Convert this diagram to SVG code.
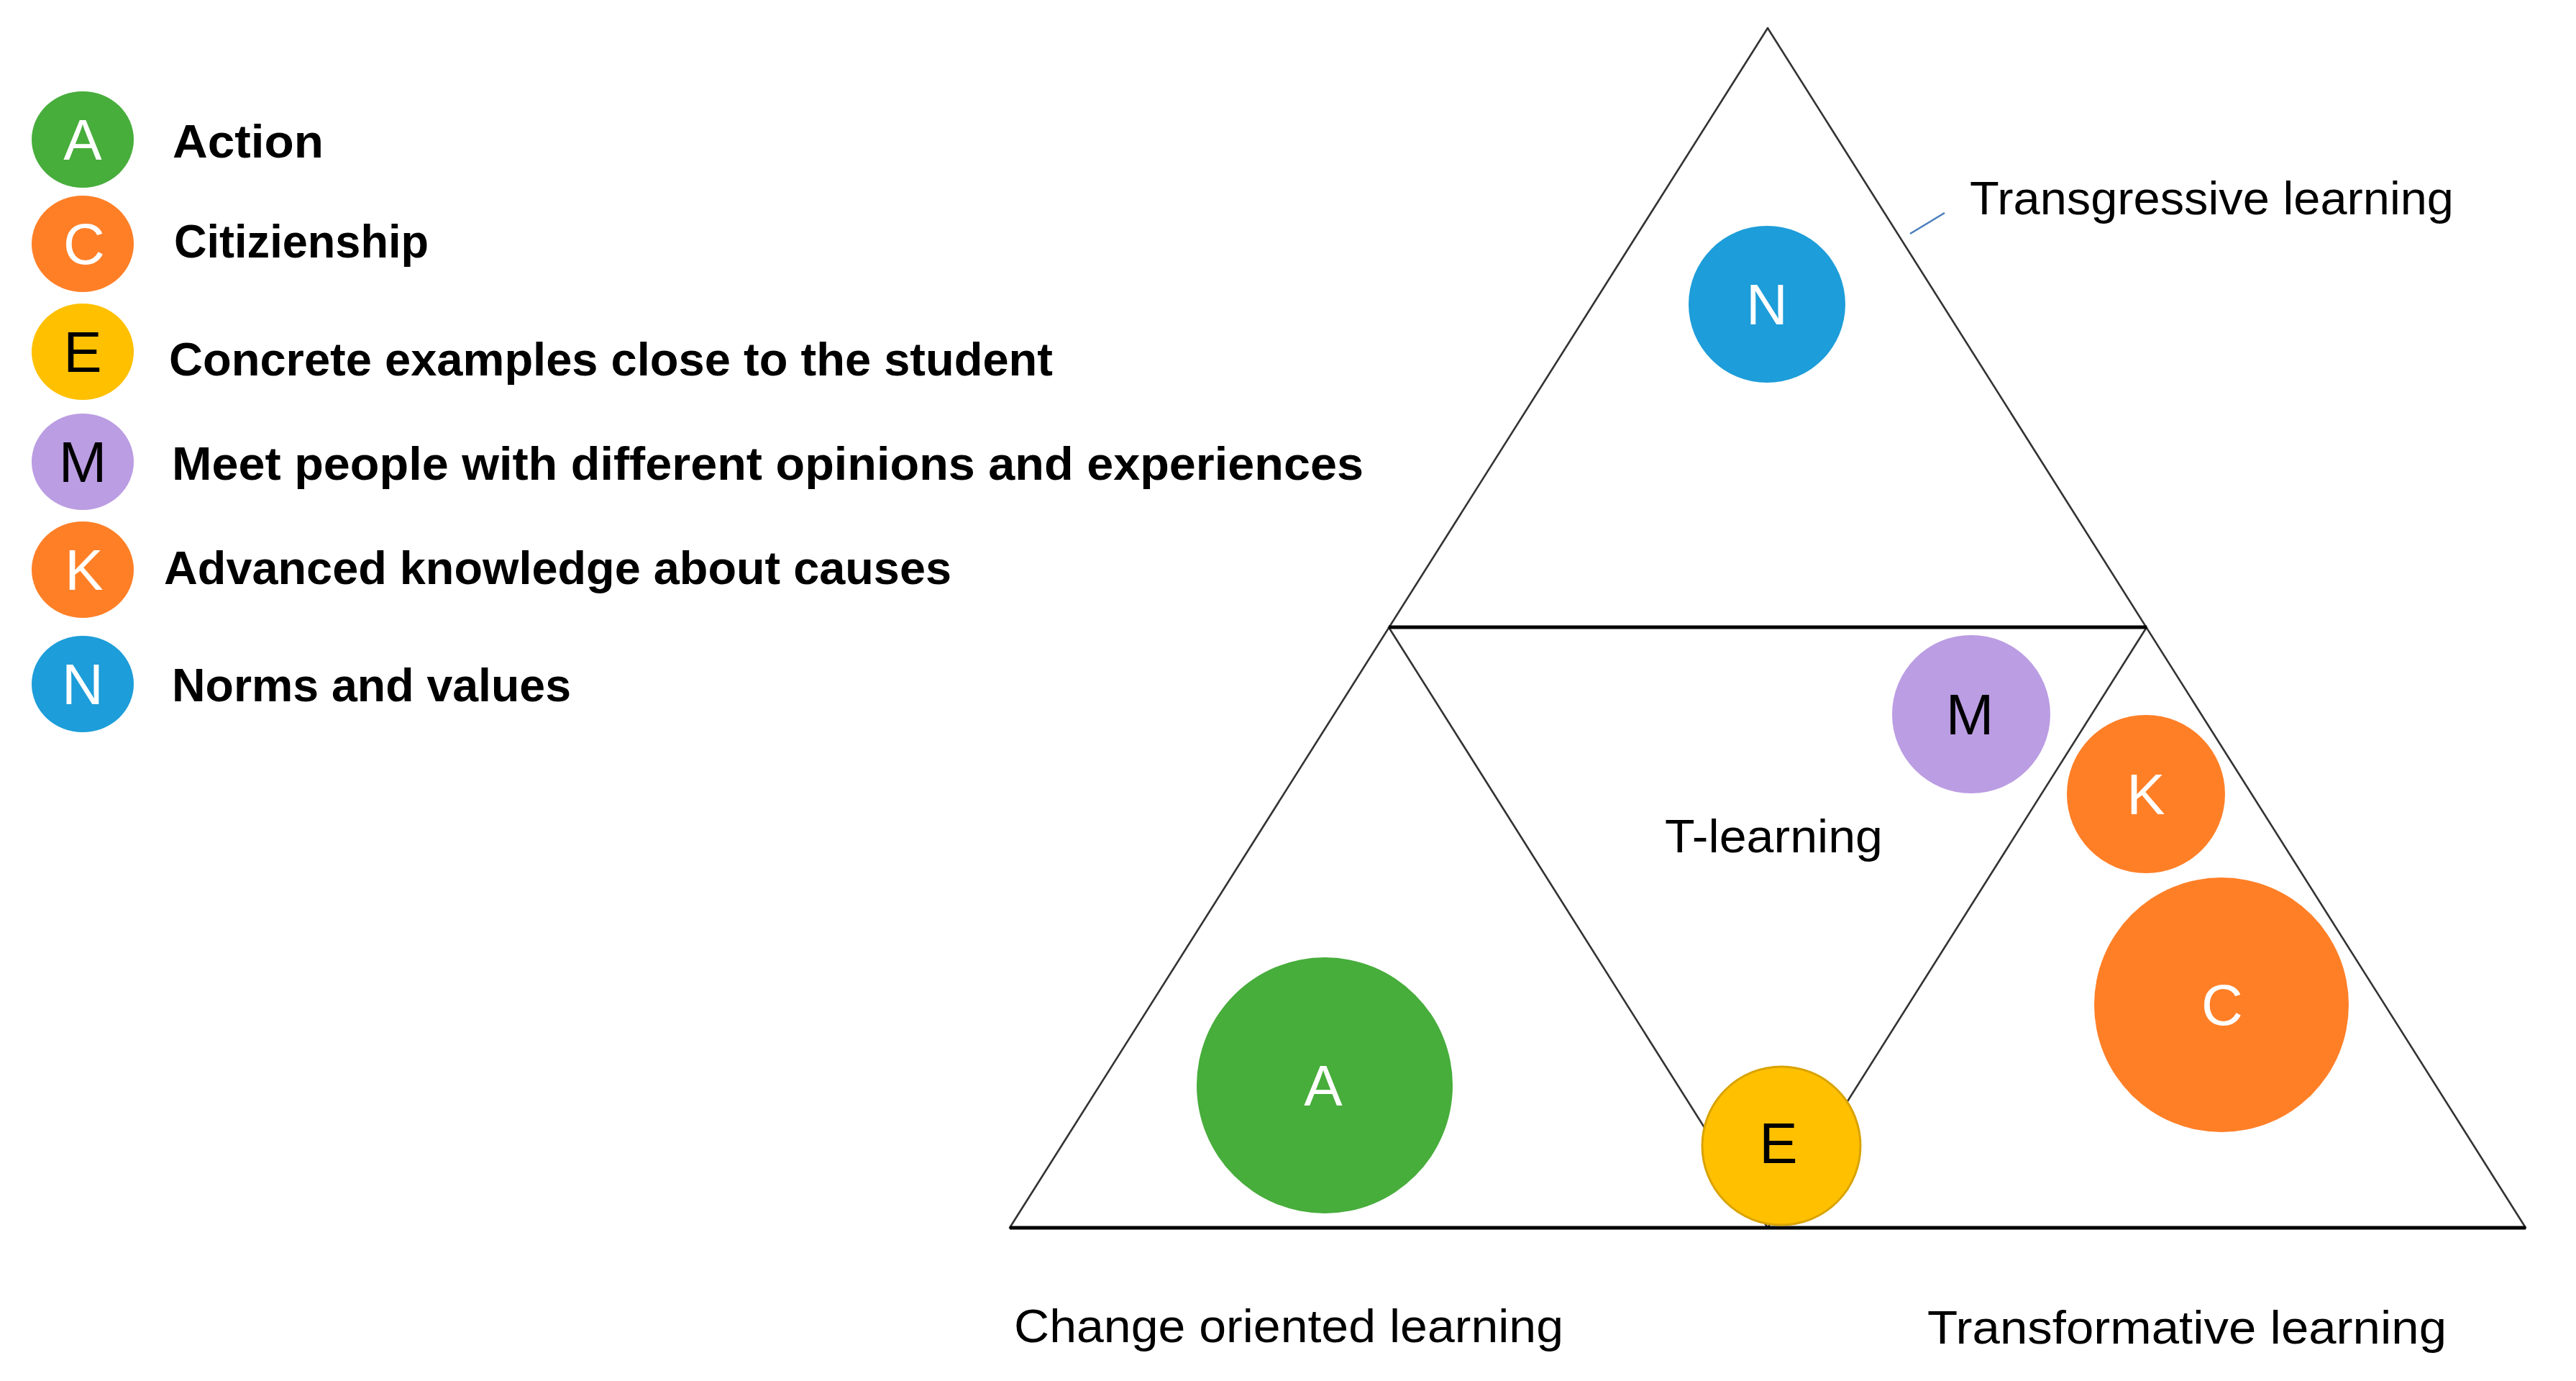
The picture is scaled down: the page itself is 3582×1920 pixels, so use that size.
<svg xmlns="http://www.w3.org/2000/svg" width="3582" height="1920" viewBox="0 0 3582 1920">
<style>
.side{stroke:#333;stroke-width:2.6;fill:none;stroke-linecap:round}
.bar{stroke:#000;stroke-width:5;fill:none}
.lead{stroke:#4A7EBB;stroke-width:2.6;fill:none}
.leg{font-family:"Liberation Sans",Arial,sans-serif;font-weight:bold;font-size:64px;fill:#000}
.lab{font-family:"Liberation Sans",Arial,sans-serif;font-size:64px;fill:#000}
.let{font-family:"Liberation Sans",Arial,sans-serif;font-size:80px;text-anchor:middle}
.w{fill:#fff}.k{fill:#000}
.green{fill:#47AD3B}.orange{fill:#FF7F27}.yellow{fill:#FFC000}.purple{fill:#BB9DE3}.blue{fill:#1D9DD9}
</style>
<rect width="3582" height="1920" fill="#fff"/>

<g id="legend">
  <g id="legend-A">
    <ellipse class="green" cx="115" cy="194" rx="71" ry="67"/>
    <text class="let w" x="115" y="222">A</text>
    <text class="leg" x="240" y="219" textLength="210" lengthAdjust="spacingAndGlyphs">Action</text>
  </g>
  <g id="legend-C">
    <ellipse class="orange" cx="115" cy="339" rx="71" ry="67"/>
    <text class="let w" x="117" y="367">C</text>
    <text class="leg" x="242" y="358" textLength="354" lengthAdjust="spacingAndGlyphs">Citizienship</text>
  </g>
  <g id="legend-E">
    <ellipse class="yellow" cx="115" cy="489" rx="71" ry="67"/>
    <text class="let k" x="115" y="517">E</text>
    <text class="leg" x="235" y="522" textLength="1229" lengthAdjust="spacingAndGlyphs">Concrete examples close to the student</text>
  </g>
  <g id="legend-M">
    <ellipse class="purple" cx="115" cy="642" rx="71" ry="67"/>
    <text class="let k" x="115" y="670">M</text>
    <text class="leg" x="239" y="667" textLength="1657" lengthAdjust="spacingAndGlyphs">Meet people with different opinions and experiences</text>
  </g>
  <g id="legend-K">
    <ellipse class="orange" cx="115" cy="792" rx="71" ry="67"/>
    <text class="let w" x="117" y="820">K</text>
    <text class="leg" x="228" y="812" textLength="1095" lengthAdjust="spacingAndGlyphs">Advanced knowledge about causes</text>
  </g>
  <g id="legend-N">
    <ellipse class="blue" cx="115" cy="951" rx="71" ry="67"/>
    <text class="let w" x="115" y="979">N</text>
    <text class="leg" x="239" y="975" textLength="555" lengthAdjust="spacingAndGlyphs">Norms and values</text>
  </g>
</g>

<g id="triangles">
  <line class="side" x1="2458" y1="39" x2="1404" y2="1707"/>
  <line class="side" x1="2458" y1="39" x2="3512" y2="1707"/>
  <line class="side" x1="1931" y1="872" x2="2458" y2="1707"/>
  <line class="side" x1="2985" y1="872" x2="2458" y2="1707"/>
  <line class="bar" x1="1931" y1="872" x2="2985" y2="872"/>
  <line class="bar" x1="1404" y1="1707" x2="3512" y2="1707"/>
</g>

<g id="connectors">
  <line class="lead" x1="2656" y1="325" x2="2704" y2="296"/>
</g>

<g id="node-N">
  <circle class="blue" cx="2457" cy="423" r="109"/>
  <text class="let w" x="2457" y="451">N</text>
</g>
<g id="node-M">
  <circle class="purple" cx="2741" cy="993" r="110"/>
  <text class="let k" x="2739" y="1021">M</text>
</g>
<g id="node-K">
  <circle class="orange" cx="2984" cy="1104" r="110"/>
  <text class="let w" x="2984" y="1132">K</text>
</g>
<g id="node-C">
  <circle class="orange" cx="3089" cy="1397" r="177"/>
  <text class="let w" x="3090" y="1425">C</text>
</g>
<g id="node-A">
  <circle class="green" cx="1842" cy="1509" r="178"/>
  <text class="let w" x="1840" y="1537">A</text>
</g>
<g id="node-E">
  <circle cx="2477" cy="1593" r="110" fill="#FFC000" stroke="#D9A300" stroke-width="3"/>
  <text class="let k" x="2473" y="1617">E</text>
</g>

<g id="labels">
  <text class="lab" x="2739" y="298" textLength="673" lengthAdjust="spacingAndGlyphs">Transgressive learning</text>
  <text class="lab" x="2315" y="1185" textLength="303" lengthAdjust="spacingAndGlyphs">T-learning</text>
  <text class="lab" x="1410" y="1866" textLength="764" lengthAdjust="spacingAndGlyphs">Change oriented  learning</text>
  <text class="lab" x="2680" y="1868" textLength="722" lengthAdjust="spacingAndGlyphs">Transformative learning</text>
</g>
</svg>
